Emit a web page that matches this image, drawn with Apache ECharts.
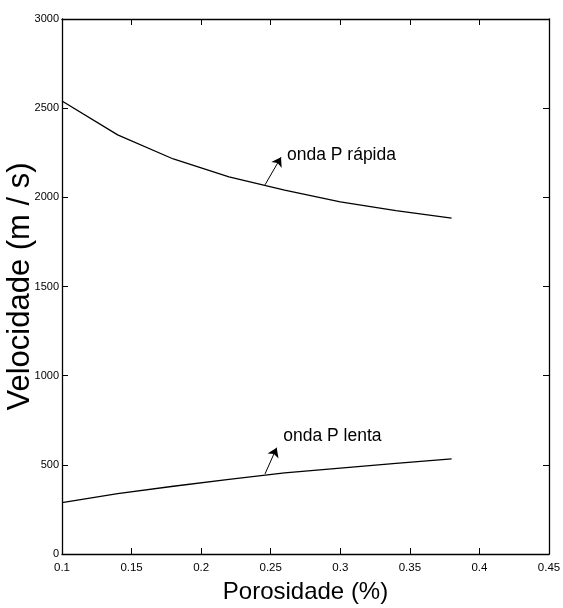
<!DOCTYPE html>
<html>
<head>
<meta charset="utf-8">
<script src="https://cdn.jsdelivr.net/npm/echarts@6/dist/echarts.min.js"></script>
<style>html,body{margin:0;padding:0;background:#fff;}#c{width:563px;height:608px;}</style>
</head>
<body>
<div id="c"></div>
<script>
const porosidade = [0.10, 0.14, 0.18, 0.22, 0.26, 0.30, 0.34, 0.38];
const ondaRapida = [2540, 2350, 2215, 2115, 2040, 1975, 1925, 1883];
const ondaLenta = [288, 338, 380, 419, 455, 482, 508, 533];
const xTicks = [0.1, 0.15, 0.2, 0.25, 0.3, 0.35, 0.4, 0.45];
const yTicks = [0, 500, 1000, 1500, 2000, 2500, 3000];
const labelRapida = 'onda P rápida';
const labelLenta = 'onda P lenta';
const arrowRapida = [[0.2459, 2070], [0.2574, 2225]];
const arrowLenta = [[0.2459, 449], [0.2543, 596]];
const textRapida = [0.2617, 2238];
const textLenta = [0.259, 658];

const sans = '"Liberation Sans", Arial, sans-serif';

const chart = echarts.init(document.getElementById('c'));
const axisCommon = {
  axisLine: {show: true, onZero: false, lineStyle: {color: '#000', width: 1.3}},
  axisTick: {show: true, inside: true, length: 6, lineStyle: {color: '#000', width: 1}},
  splitLine: {show: false},
  nameMoveOverlap: false
};
function series(name, data, arrow, textPos, text) {
  return {
    name: name, type: 'line', symbol: 'none', smooth: false,
    data: porosidade.map((x, i) => [x, data[i]]),
    lineStyle: {color: '#000', width: 1.3},
    markLine: {
      silent: true, symbol: ['none', 'arrow'], symbolSize: 9,
      label: {show: false},
      lineStyle: {color: '#000', width: 1, type: 'solid'},
      data: [[{coord: arrow[0]}, {coord: arrow[1]}]]
    },
    markPoint: {
      silent: true, symbol: 'circle', symbolSize: 0,
      data: [{coord: textPos, value: text}],
      label: {show: true, position: 'right', distance: 0, formatter: text,
        color: '#000', fontFamily: sans, fontSize: 17.5}
    }
  };
}
chart.setOption({
  animation: false,
  backgroundColor: '#fff',
  grid: {left: 62, right: 14, top: 19, bottom: 54, containLabel: false, outerBoundsMode: 'none'},
  xAxis: [
    Object.assign({}, axisCommon, {
      type: 'value', min: 0.1, max: 0.45, interval: 0.05, position: 'bottom',
      name: 'Porosidade (%)', nameLocation: 'middle', nameGap: 26,
      nameTextStyle: {fontFamily: sans, fontSize: 24, color: '#000'},
      axisLabel: {color: '#000', fontFamily: sans, fontSize: 11.5, margin: 8,
        formatter: v => String(+v.toFixed(2))}
    }),
    Object.assign({}, axisCommon, {
      type: 'value', min: 0.1, max: 0.45, interval: 0.05, position: 'top',
      axisLabel: {show: false}
    })
  ],
  yAxis: [
    Object.assign({}, axisCommon, {
      type: 'value', min: 0, max: 3000, interval: 500, position: 'left',
      name: 'Velocidade (m / s)', nameLocation: 'middle', nameGap: 26,
      nameTextStyle: {fontFamily: sans, fontSize: 31, color: '#000'},
      axisLabel: {color: '#000', fontFamily: sans, fontSize: 11, margin: 3,
        formatter: v => String(v)}
    }),
    Object.assign({}, axisCommon, {
      type: 'value', min: 0, max: 3000, interval: 500, position: 'right',
      axisLabel: {show: false}
    })
  ],
  series: [
    series('rapida', ondaRapida, arrowRapida, textRapida, labelRapida),
    series('lenta', ondaLenta, arrowLenta, textLenta, labelLenta)
  ]
});
</script>
</body>
</html>
